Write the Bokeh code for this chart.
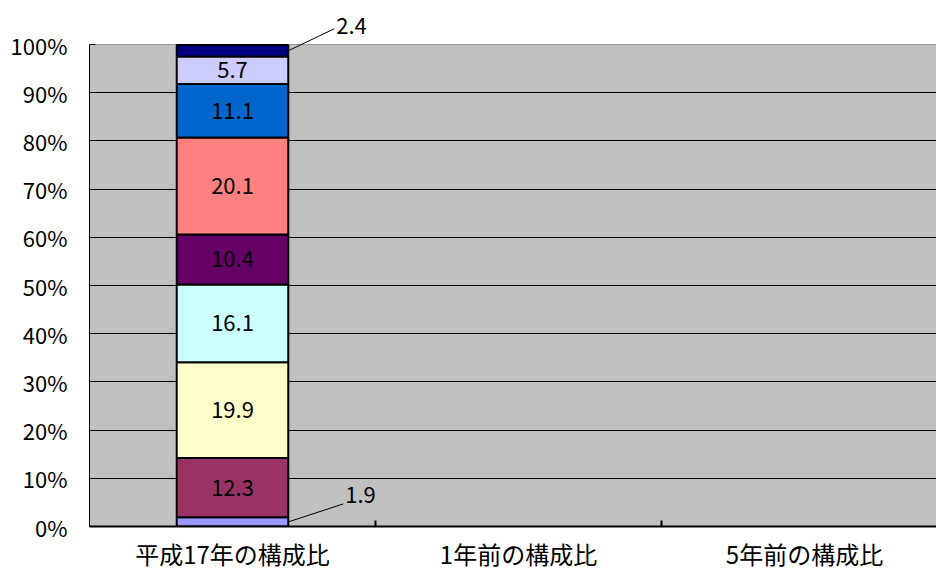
from bokeh.plotting import figure
from bokeh.models import ColumnDataSource, Range1d, FixedTicker, Span, BoxAnnotation
from bokeh.core.properties import value
from bokeh.embed import file_html
from bokeh.resources import INLINE

# Categories along the x axis (only the first one carries data)
categories = ["平成17年の構成比", "1年前の構成比", "5年前の構成比"]

# Composition ratio (%) of the first category, stacked bottom to top
shares = [1.9, 12.3, 19.9, 16.1, 10.4, 20.1, 11.1, 5.7, 2.4]

# Segment fill colours, bottom to top
seg_colors = ["#9999FF", "#993366", "#FFFFCC", "#CCFFFF", "#660066",
              "#FF8080", "#0066CC", "#CCCCFF", "#000080"]

y_ticks = [0, 10, 20, 30, 40, 50, 60, 70, 80, 90, 100]
y_tick_labels = [f"{t}%" for t in y_ticks]

# ---- layout -------------------------------------------------------------
W, H = 936, 573
LEFT, TOP, BOTTOM = 89, 44, 47
FRAME_W = W - LEFT
PLOT_H = H - TOP - BOTTOM          # pixel height of the 0-100 % band
CAT_PX = 286                       # pixel width of one category slot
X_END = FRAME_W / CAT_PX           # visible part of the category axis
Y_END = 100 * (PLOT_H + TOP) / PLOT_H
BAR_W = 0.39
FONT = "Noto Sans CJK JP"
NUM_SIZE = "22px"

p = figure(width=W, height=H, output_backend="svg", toolbar_location=None,
           x_range=Range1d(0, X_END), y_range=Range1d(0, Y_END),
           min_border_left=LEFT, min_border_right=0,
           min_border_top=0, min_border_bottom=BOTTOM)
p.background_fill_color = "white"
p.border_fill_color = "white"
p.outline_line_color = None

# grey plot area from 0 % to 100 %
p.add_layout(BoxAnnotation(bottom=0, top=100, fill_color="#C0C0C0",
                           fill_alpha=1, line_color=None, level="image"))

# ---- stacked bar --------------------------------------------------------
bottoms, tops = [], []
acc = 0.0
for v in shares:
    bottoms.append(acc)
    acc += v
    tops.append(acc)

x0 = 0.5  # centre of the first category slot
src = ColumnDataSource(dict(x=[x0] * len(shares), bottom=bottoms, top=tops,
                            color=seg_colors, val=shares,
                            mid=[(b + t) / 2 for b, t in zip(bottoms, tops)],
                            label=[f"{v:.1f}" for v in shares]))

# gridlines (drawn under the bar)
p.xgrid.grid_line_color = None
p.ygrid.ticker = FixedTicker(ticks=y_ticks[1:-1])
p.ygrid.grid_line_color = "black"
p.ygrid.grid_line_width = 1
p.add_layout(Span(location=100, dimension="width", line_color="#9a9a9a",
                  line_width=1, level="underlay"))

p.vbar(x="x", bottom="bottom", top="top", width=BAR_W, fill_color="color",
       line_color="black", line_width=2, source=src)

# labels inside the large segments
inside = [i for i, v in enumerate(shares) if v >= 3]
p.text(x=[x0] * len(inside), y=[src.data["mid"][i] for i in inside],
       text=[src.data["label"][i] for i in inside],
       text_align="center", text_baseline="middle",
       text_font=value(FONT), text_font_size=NUM_SIZE, text_color="black")

# small segments are labelled outside with a leader line
px_x = X_END / FRAME_W
px_y = 100 / PLOT_H
leader = {0: (55, 18, 9), 8: (46, 22, 3)}   # leader end dx, dy; text lift (px)
for i, v in enumerate(shares):
    if v >= 3:
        continue
    dx, dy, lift = leader.get(i, (50, 20, 5))
    xs = x0 + BAR_W / 2
    ys = src.data["mid"][i]
    xe = xs + dx * px_x
    ye = ys + dy * px_y
    p.segment(x0=[xs], y0=[ys], x1=[xe], y1=[ye], line_color="black",
              line_width=1)
    p.text(x=[xe + 2 * px_x], y=[ye + lift * px_y], text=[f"{v:.1f}"],
           text_align="left", text_baseline="middle",
           text_font=value(FONT), text_font_size=NUM_SIZE, text_color="black")

# ---- axes ---------------------------------------------------------------
p.yaxis.bounds = (0, 100)
p.yaxis.ticker = FixedTicker(ticks=y_ticks)
p.yaxis.major_label_overrides = {t: l for t, l in zip(y_ticks, y_tick_labels)}
p.yaxis.major_label_text_font = FONT
p.yaxis.major_label_text_font_size = NUM_SIZE
p.yaxis.major_label_text_color = "black"
p.yaxis.major_tick_in = 6
p.yaxis.major_tick_out = 0
p.yaxis.minor_tick_line_color = None
p.yaxis.major_label_standoff = 22
p.yaxis.axis_line_color = "black"
p.yaxis.major_tick_line_color = "black"

centres = [i + 0.5 for i in range(len(categories))]
p.xaxis.ticker = FixedTicker(ticks=centres, minor_ticks=[1, 2, 3])
p.xaxis.major_label_overrides = {c: n for c, n in zip(centres, categories)}
p.xaxis.major_label_text_font = FONT
p.xaxis.major_label_text_font_size = "24px"
p.xaxis.major_label_text_color = "black"
p.xaxis.major_tick_in = 0
p.xaxis.major_tick_out = 0
p.xaxis.minor_tick_in = 6
p.xaxis.minor_tick_out = 0
p.xaxis.minor_tick_line_color = "black"
p.xaxis.minor_tick_line_width = 2
p.xaxis.major_label_standoff = 9
p.xaxis.axis_line_color = "black"
p.xaxis.axis_line_width = 2

open("out.html", "w").write(file_html(p, INLINE))
